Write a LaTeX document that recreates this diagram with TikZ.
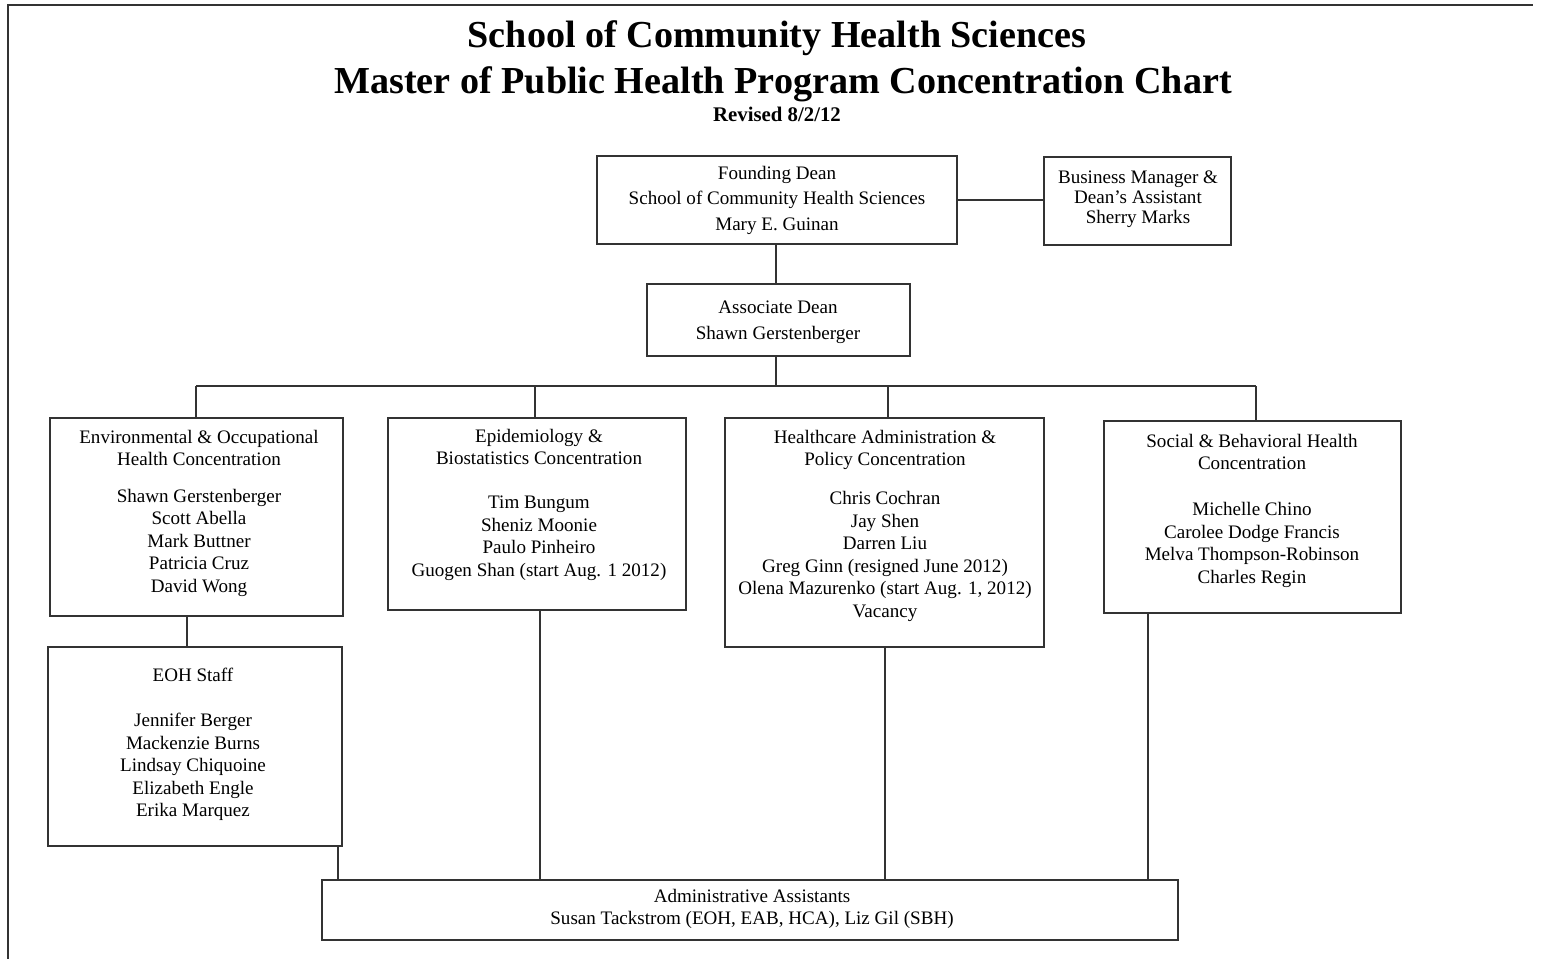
\documentclass[tikz,border=0pt]{standalone}
\usepackage{fontspec}
\setmainfont{Liberation Serif}
\definecolor{linec}{HTML}{333333}
\tikzset{
  box/.style={draw=linec, line width=0.8pt, inner sep=0pt, outer sep=0pt},
  conn/.style={draw=linec, line width=0.8pt},
  txt/.style={inner sep=0pt, outer sep=0pt, align=center, anchor=north, text=black,
    font=\fontsize{14.3}{16.9}\selectfont},
  ttl/.style={inner sep=0pt, anchor=base, text=black, font=\bfseries\fontsize{28.6}{34}\selectfont}
}
\begin{document}
\begin{tikzpicture}[x=0.75pt, y=-0.75pt]
\useasboundingbox (0,0) rectangle (1564,959);
% page frame
\draw[linec, line width=0.9pt] (8,959) -- (8,5) -- (1533,5);
% titles
\node[ttl] (t1) at (777,48) {School of Community Health Sciences};
\node[ttl] (t2) at (783,94) {Master of Public Health Program Concentration Chart};
\node[ttl, font=\bfseries\fontsize{15.6}{18}\selectfont] (t3) at (777,122) {Revised 8/2/12};
% boxes
\node[box, minimum width=270pt, minimum height=66pt] (fd) at (777,200) {};
\node[box, minimum width=140.25pt, minimum height=66pt] (bm) at (1137.5,201) {};
\node[box, minimum width=197.25pt, minimum height=54pt] (ad) at (778.5,320) {};
\node[box, minimum width=219.75pt, minimum height=148.5pt] (eo) at (196.5,517) {};
\node[box, minimum width=220.5pt, minimum height=149.25pt] (eoh) at (195,746.5) {};
\node[box, minimum width=223.5pt, minimum height=144pt] (ep) at (537,514) {};
\node[box, minimum width=239.25pt, minimum height=171.75pt] (hc) at (884.5,532.5) {};
\node[box, minimum width=222.75pt, minimum height=144pt] (sb) at (1252.5,517) {};
\node[box, minimum width=642pt, minimum height=45pt] (aa) at (750,910) {};
% texts
\node[txt, font=\fontsize{14.3}{19.1}\selectfont] (fdT) at (777,166) {Founding Dean\\School of Community Health Sciences\\Mary E. Guinan};
\node[txt, font=\fontsize{14.3}{15}\selectfont] (bmT) at (1138,171) {Business Manager \&\\Dean’s Assistant\\Sherry Marks};
\node[txt, font=\fontsize{14.3}{19.5}\selectfont] (adT) at (778,301) {Associate Dean\\Shawn Gerstenberger};
\node[txt] (eoT) at (199,430) {Environmental \& Occupational\\Health Concentration\\[10.5pt]Shawn Gerstenberger\\Scott Abella\\Mark Buttner\\Patricia Cruz\\David Wong};
\node[txt] (eohT) at (193,668) {EOH Staff\\[16.9pt]Jennifer Berger\\Mackenzie Burns\\Lindsay Chiquoine\\Elizabeth Engle\\Erika Marquez};
\node[txt] (epT) at (539,429) {Epidemiology \&\\Biostatistics Concentration\\[16.2pt]Tim Bungum\\Sheniz Moonie\\Paulo Pinheiro\\Guogen Shan (start Aug. 1 2012)};
\node[txt] (hcT) at (885,430) {Healthcare Administration \&\\Policy Concentration\\[12.4pt]Chris Cochran\\Jay Shen\\Darren Liu\\Greg Ginn (resigned June 2012)\\Olena Mazurenko (start Aug. 1, 2012)\\Vacancy};
\node[txt] (sbT) at (1252,434) {Social \& Behavioral Health\\Concentration\\[17.5pt]Michelle Chino\\Carolee Dodge Francis\\Melva Thompson-Robinson\\Charles Regin};
\node[txt] (aaT) at (752,889) {Administrative Assistants\\Susan Tackstrom (EOH, EAB, HCA), Liz Gil (SBH)};
% connector coordinates
\coordinate (x776) at (776,0);
\coordinate (b1) at (196,386);
\coordinate (b2) at (535,386);
\coordinate (b3) at (888,386);
\coordinate (b4) at (1256,386);
\coordinate (x187) at (187,0);
\coordinate (x338) at (338,0);
\coordinate (x540) at (540,0);
\coordinate (x885) at (885,0);
\coordinate (x1148) at (1148,0);
% connectors
\draw[conn] (fd.east) -- (fd.east -| bm.west);
\draw[conn] (fd.south -| x776) -- (ad.north -| x776);
\draw[conn] (ad.south -| x776) -- (b1 -| x776);
\draw[conn] (b1) -- (b4);
\draw[conn] (b1) -- (b1 |- eo.north);
\draw[conn] (b2) -- (b2 |- ep.north);
\draw[conn] (b3) -- (b3 |- hc.north);
\draw[conn] (b4) -- (b4 |- sb.north);
\draw[conn] (eo.south -| x187) -- (eoh.north -| x187);
\draw[conn] (eoh.south -| x338) -- (aa.north -| x338);
\draw[conn] (ep.south -| x540) -- (aa.north -| x540);
\draw[conn] (hc.south -| x885) -- (aa.north -| x885);
\draw[conn] (sb.south -| x1148) -- (aa.north -| x1148);
\end{tikzpicture}
\end{document}
